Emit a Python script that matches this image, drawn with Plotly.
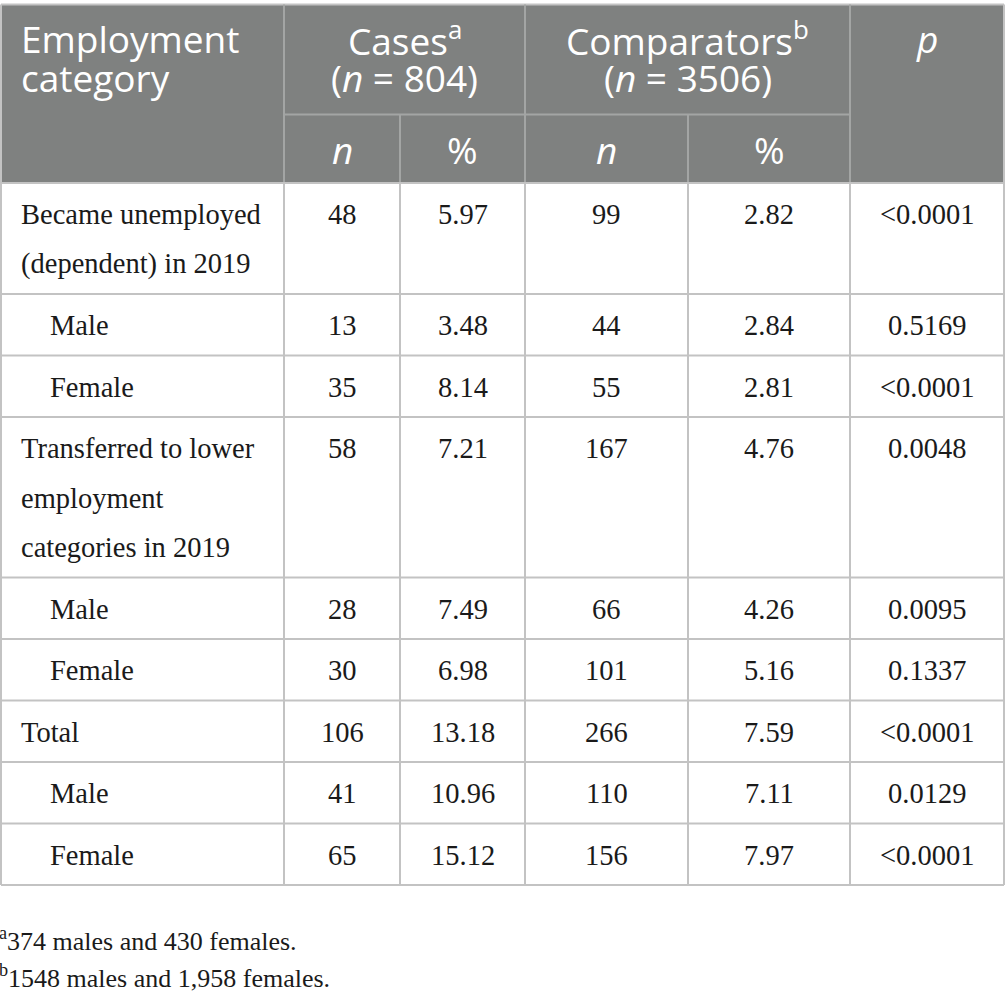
import plotly.graph_objects as go

# ---- table data ----
categories = [
    "Became unemployed<br>(dependent) in 2019",
    "Male",
    "Female",
    "Transferred to lower<br>employment<br>categories in 2019",
    "Male",
    "Female",
    "Total",
    "Male",
    "Female",
]
is_sub = [False, True, True, False, True, True, False, True, True]
cases_n = [48, 13, 35, 58, 28, 30, 106, 41, 65]
cases_pct = [5.97, 3.48, 8.14, 7.21, 7.49, 6.98, 13.18, 10.96, 15.12]
comp_n = [99, 44, 55, 167, 66, 101, 266, 110, 156]
comp_pct = [2.82, 2.84, 2.81, 4.76, 4.26, 5.16, 7.59, 7.11, 7.97]
p_values = ["<0.0001", "0.5169", "<0.0001", "0.0048", "0.0095", "0.1337",
            "<0.0001", "0.0129", "<0.0001"]
footnotes = ["<sup>a</sup>374 males and 430 females.",
             "<sup>b</sup>1548 males and 1,958 females."]

# ---- geometry / style ----
W, H = 1005, 1000
col_edges = [1, 284, 400, 525, 688, 850, 1004]
head_top, head_mid, head_bot = 4.5, 114.5, 183
line_gap = 49.5
head_fill = "#7f8180"
head_line = "#a3a5a4"
grid = "#c3c3c3"
sans = "Open Sans"
serif = "Liberation Serif"
hsize = 37
bsize = 28.5

fig = go.Figure()
shapes = []
ann = []


def hline(y, x0, x1, color):
    shapes.append(dict(type="line", x0=x0, x1=x1, y0=y, y1=y,
                       line=dict(color=color, width=2)))


def vline(x, y0, y1, color):
    shapes.append(dict(type="line", x0=x, x1=x, y0=y0, y1=y1,
                       line=dict(color=color, width=2)))


def text(x, y, s, font, size, color, xanchor="center", xshift=0):
    ann.append(dict(x=x, y=y, text=s, showarrow=False, xanchor=xanchor, xshift=xshift,
                    yanchor="middle", font=dict(family=font, size=size, color=color)))


# header block
shapes.append(dict(type="rect", x0=col_edges[0], x1=col_edges[-1], y0=head_top, y1=head_bot,
                   fillcolor=head_fill, line=dict(width=0), layer="below"))
hline(head_top, col_edges[0], col_edges[-1], grid)
hline(head_mid, col_edges[1], col_edges[5], head_line)
for i, x in enumerate(col_edges):
    y0 = head_mid if i in (2, 4) else head_top
    vline(x, y0, head_bot, head_line if 0 < i < 6 else grid)

# body rows
row_tops = [head_bot]
for c in categories:
    n_lines = len(c.split("<br>"))
    row_tops.append(row_tops[-1] + 61.5 + line_gap * (n_lines - 1))
for y in row_tops:
    hline(y, col_edges[0], col_edges[-1], grid)
for x in col_edges:
    vline(x, head_bot, row_tops[-1], grid)

centers = [(col_edges[i] + col_edges[i + 1]) / 2 for i in range(len(col_edges) - 1)]

# header text
wh = "white"
text(19, 38, "Employment", sans, hsize, wh, "left")
text(19, 77, "category", sans, hsize, wh, "left")
text((col_edges[1] + col_edges[3]) / 2, 38, "Cases<sup>a</sup>", sans, hsize, wh)
text((col_edges[1] + col_edges[3]) / 2, 77, "(<i>n</i> = 804)", sans, hsize, wh)
text((col_edges[3] + col_edges[5]) / 2, 38, "Comparators<sup>b</sup>", sans, hsize, wh)
text((col_edges[3] + col_edges[5]) / 2, 77, "(<i>n</i> = 3506)", sans, hsize, wh)
text(centers[5], 38, "<i>p</i>", sans, hsize, wh)
for ci, lab in zip([1, 2, 3, 4], ["<i>n</i>", "%", "<i>n</i>", "%"]):
    text(centers[ci], 149, lab, sans, hsize, wh)

# body text
blk = "#1a1a1a"
for r, cat in enumerate(categories):
    top = row_tops[r]
    yc = top + 31.5
    for k, line in enumerate(cat.split("<br>")):
        text(48 if is_sub[r] else 19, yc + k * line_gap, line, serif, bsize, blk, "left")
    vals = [str(cases_n[r]), f"{cases_pct[r]:.2f}", str(comp_n[r]),
            f"{comp_pct[r]:.2f}", p_values[r].replace("<", "&lt;")]
    for ci, v in enumerate(vals, start=1):
        text(centers[ci], yc, v, serif, bsize, blk)

# footnotes
for k, fn in enumerate(footnotes):
    text(0, 939 + k * 37, fn, serif, 26, blk, "left", xshift=-3)

fig.update_layout(
    width=W, height=H, margin=dict(l=0, r=0, t=0, b=0),
    paper_bgcolor="white", plot_bgcolor="white",
    xaxis=dict(range=[0, W], visible=False, fixedrange=True),
    yaxis=dict(range=[H, 0], visible=False, fixedrange=True),
    shapes=shapes, annotations=ann, showlegend=False,
)
fig.write_html("out.html", config={"displayModeBar": False},
               post_script="document.body.style.margin='0';")
